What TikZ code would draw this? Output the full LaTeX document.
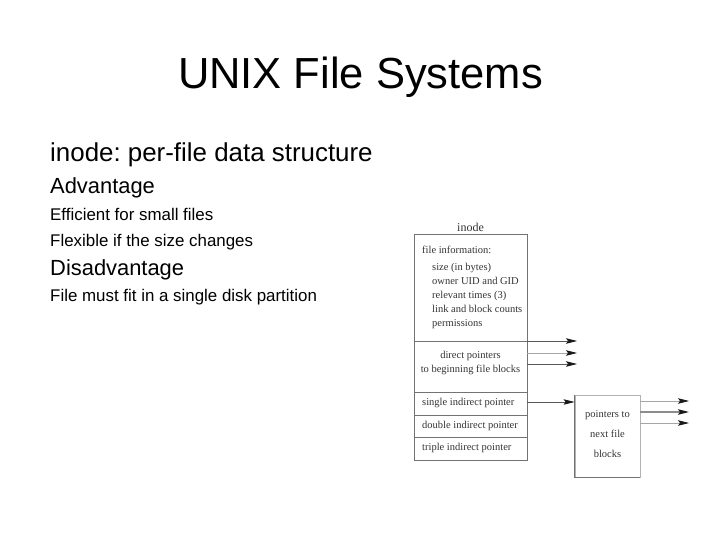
\documentclass[tikz,border=0pt]{standalone}
\usepackage{fontspec}
\setmainfont{Liberation Sans}
\newfontfamily\tms{Liberation Serif}
\usetikzlibrary{arrows.meta}
\frenchspacing
\begin{document}
\begin{tikzpicture}[x=1pt,y=-1pt,
  slide/.style={anchor=base west,inner sep=0pt,text=black},
  dtext/.style={inner sep=0pt,text=black!80,font=\tms\fontsize{10.5}{12}\selectfont},
  boxline/.style={draw=black!55,line width=0.8pt},
  ptr/.style={draw=black!65,line width=0.8pt,-{Stealth[length=11pt,width=5.5pt,inset=2pt,color=black!90]}}]
\useasboundingbox (0,0) rectangle (720,540);
% slide text
\node[anchor=base,inner sep=0pt,font=\fontsize{43.5}{50}\selectfont] (title) at (360.5,89) {UNIX File Systems};
\node[slide,font=\fontsize{25.9}{30}\selectfont] (h1) at (50,162) {inode: per-file data structure};
\node[slide,font=\fontsize{21.9}{26}\selectfont] (adv) at (50,194) {Advantage};
\node[slide,font=\fontsize{16.9}{20}\selectfont] (a1) at (50,221) {Efficient for small files};
\node[slide,font=\fontsize{16.9}{20}\selectfont] (a2) at (50,247) {Flexible if the size changes};
\node[slide,font=\fontsize{21.9}{26}\selectfont] (dis) at (50,275) {Disadvantage};
\node[slide,font=\fontsize{16.9}{20}\selectfont] (d1) at (50,301) {File must fit in a single disk partition};
% inode box
\node[dtext,anchor=base,font=\tms\fontsize{12}{14}\selectfont] (ilabel) at (470.5,231) {inode};
\node[boxline,inner sep=0pt,minimum width=113pt,minimum height=226pt] (ibox) at (470.5,347) {};
\draw[boxline] (ibox.west |- 0,341) coordinate (s1w) -- (ibox.east |- 0,341) coordinate (s1e);
\draw[boxline] (ibox.west |- 0,392) coordinate (s2w) -- (ibox.east |- 0,392) coordinate (s2e);
\draw[boxline] (ibox.west |- 0,415) coordinate (s3w) -- (ibox.east |- 0,415) coordinate (s3e);
\draw[boxline] (ibox.west |- 0,437) coordinate (s4w) -- (ibox.east |- 0,437) coordinate (s4e);
\node[dtext,anchor=base west] (fi) at (422,253) {file information:};
\node[dtext,anchor=base west] (f1) at (432,270) {size (in bytes)};
\node[dtext,anchor=base west] (f2) at (432,284) {owner UID and GID};
\node[dtext,anchor=base west] (f3) at (432,298) {relevant times (3)};
\node[dtext,anchor=base west] (f4) at (432,312) {link and block counts};
\node[dtext,anchor=base west] (f5) at (432,326) {permissions};
\node[dtext,anchor=base] (dp1) at (470.5,358) {direct pointers};
\node[dtext,anchor=base] (dp2) at (470.5,372) {to beginning file blocks};
\node[dtext,anchor=base west] (sip) at (422,405) {single indirect pointer};
\node[dtext,anchor=base west] (dip) at (422,428) {double indirect pointer};
\node[dtext,anchor=base west] (tip) at (422,450) {triple indirect pointer};
% direct pointer targets
\coordinate (t1) at (577,341);
\coordinate (t2) at (577,353);
\coordinate (t3) at (577,364);
\draw[ptr] (ibox.east |- t1) -- (t1);
\draw[ptr,draw=black!35] (ibox.east |- t2) -- (t2);
\draw[ptr] (ibox.east |- t3) -- (t3);
% indirect block
\node[draw=black!30,line width=0.8pt,inner sep=0pt,minimum width=65pt,minimum height=82pt] (nbox) at (607.5,436) {};
\draw[boxline] (nbox.north west) -- (nbox.south west) -- (nbox.south east);
\node[dtext,anchor=base] (n1) at (607.5,417) {pointers to};
\node[dtext,anchor=base] (n2) at (607.5,437) {next file};
\node[dtext,anchor=base] (n3) at (607.5,457) {blocks};
\draw[ptr] (ibox.east |- 0,402) -- (nbox.west |- 0,402);
\coordinate (u1) at (689,401);
\coordinate (u2) at (689,412);
\coordinate (u3) at (689,423);
\draw[ptr,draw=black!35] (nbox.east |- u1) -- (u1);
\draw[ptr,draw=black!45,line width=1.4pt] (nbox.east |- u2) -- (u2);
\draw[ptr,draw=black!35] (nbox.east |- u3) -- (u3);
\end{tikzpicture}
\end{document}
